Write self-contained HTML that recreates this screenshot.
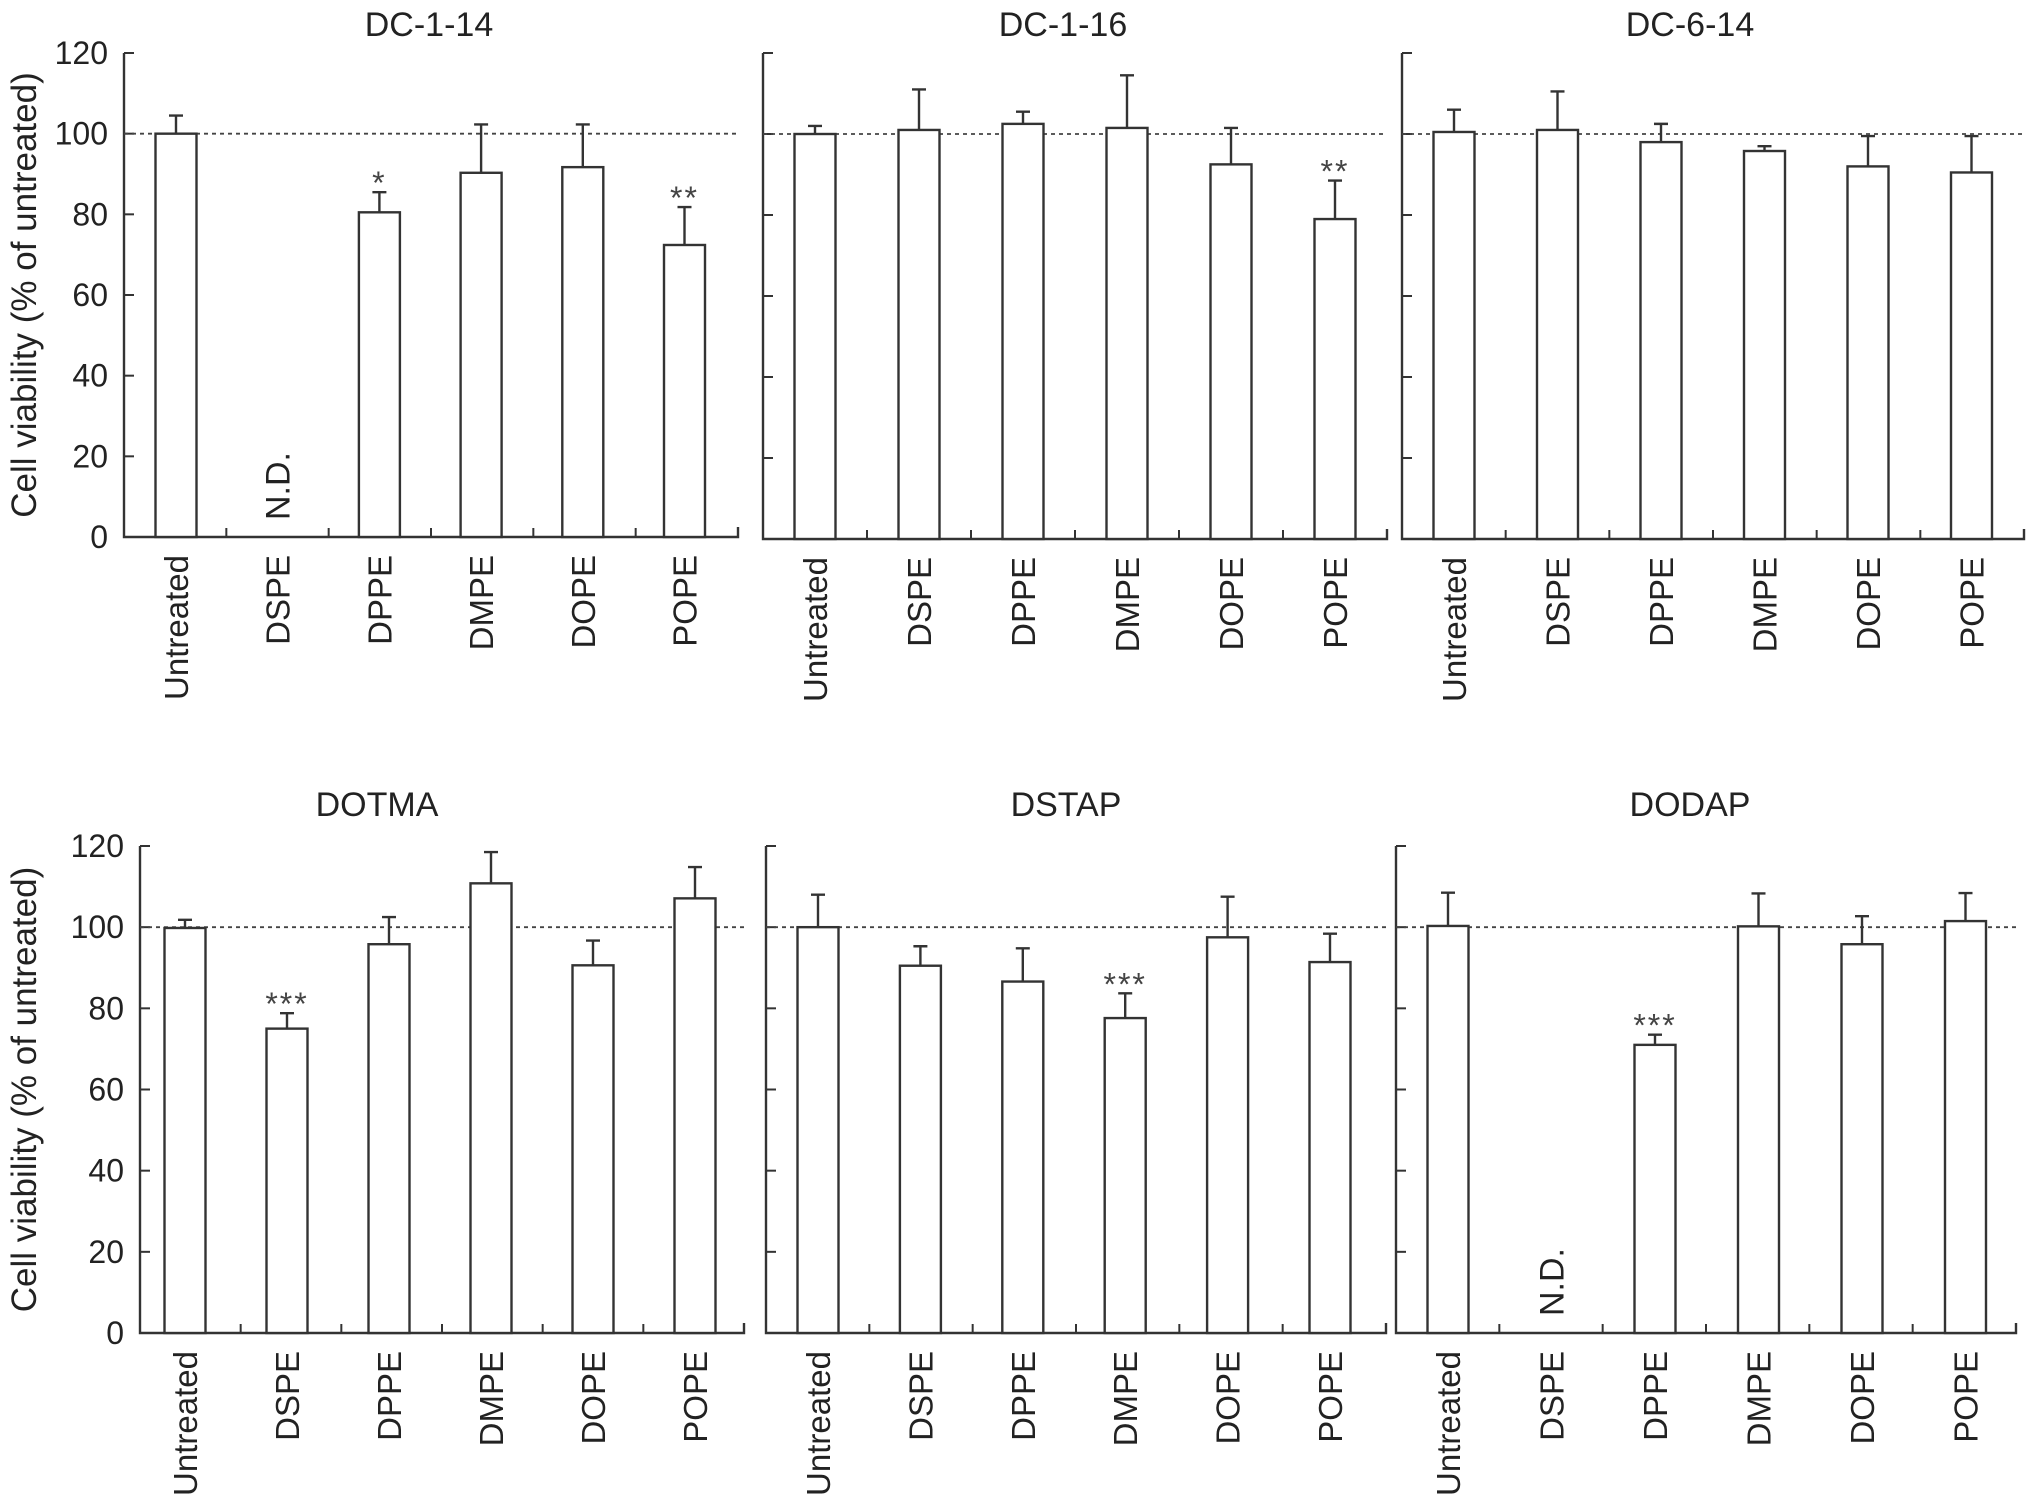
<!DOCTYPE html>
<html><head><meta charset="utf-8"><style>
body{margin:0;background:#fff;}
svg{display:block;font-family:"Liberation Sans",Arial,sans-serif;}
</style></head><body>
<svg id="chart" width="2032" height="1500" viewBox="0 0 2032 1500"></svg>
<script>
const categories = ["Untreated","DSPE","DPPE","DMPE","DOPE","POPE"];
const panelTitles = ["DC-1-14","DC-1-16","DC-6-14","DOTMA","DSTAP","DODAP"];
const yTicks = [0,20,40,60,80,100,120];
// null = N.D.
const valsDC114 = [100, null, 80.5, 90.3, 91.7, 72.4];
const errDC114  = [104.5, null, 85.5, 102.3, 102.3, 81.8];
const valsDC116 = [100, 101, 102.5, 101.5, 92.5, 79];
const errDC116  = [102, 111, 105.5, 114.5, 101.5, 88.5];
const valsDC614 = [100.5, 101, 98, 95.8, 92, 90.5];
const errDC614  = [106, 110.5, 102.5, 97, 99.5, 99.5];
const valsDOTMA = [99.8, 75, 95.8, 110.8, 90.6, 107.1];
const errDOTMA  = [101.8, 78.8, 102.5, 118.5, 96.7, 114.8];
const valsDSTAP = [100, 90.5, 86.6, 77.6, 97.5, 91.4];
const errDSTAP  = [108, 95.3, 94.8, 83.7, 107.5, 98.4];
const valsDODAP = [100.3, null, 71, 100.2, 95.8, 101.5];
const errDODAP  = [108.5, null, 73.5, 108.3, 102.7, 108.4];
const starsDC114 = ["", "", "*", "", "", "**"];
const starsDC116 = ["", "", "", "", "", "**"];
const starsDC614 = ["", "", "", "", "", ""];
const starsDOTMA = ["", "***", "", "", "", ""];
const starsDSTAP = ["", "", "", "***", "", ""];
const starsDODAP = ["", "", "***", "", "", ""];

const allVals = [valsDC114,valsDC116,valsDC614,valsDOTMA,valsDSTAP,valsDODAP];
const allErr = [errDC114,errDC116,errDC614,errDOTMA,errDSTAP,errDODAP];
const allStars = [starsDC114,starsDC116,starsDC614,starsDOTMA,starsDSTAP,starsDODAP];

const layout = [
  {x0:124,W:614,off:52,step:101.7,y0:537,y1:53,tx:429,ty:36},
  {x0:763,W:624,off:52,step:104,y0:539,y1:53,tx:1063,ty:36},
  {x0:1402,W:622,off:52,step:103.5,y0:539,y1:53,tx:1690,ty:36},
  {x0:140,W:604,off:45,step:102,y0:1333,y1:846,tx:377,ty:816},
  {x0:766,W:620,off:52,step:102.4,y0:1333,y1:846,tx:1066,ty:816},
  {x0:1396,W:620,off:52,step:103.5,y0:1333,y1:846,tx:1690,ty:816}
];
const NS="http://www.w3.org/2000/svg";
const svg=document.getElementById('chart');
function mk(tag,attrs,parent){const e=document.createElementNS(NS,tag);for(const k in attrs)e.setAttribute(k,attrs[k]);(parent||svg).appendChild(e);return e;}

layout.forEach((L,p)=>{
  const g=mk('g',{});
  
  
  const yS=v=>L.y0-(v/120)*(L.y0-L.y1);
  const tickStep=L.W/6;
  const xS=i=>L.x0+L.off+i*L.step;
  const t=mk('text',{x:L.tx,y:L.ty,'font-size':34,'text-anchor':'middle',fill:'#222'},g);
  t.textContent=panelTitles[p];
  
  
  const ax=mk('path',{d:`M${L.x0},${L.y1} V${L.y0} H${L.x0+L.W} v-10`,stroke:'#333','stroke-width':2.4,fill:'none'},g);
  
  
  yTicks.forEach(v=>{
    mk('line',{x1:L.x0,x2:L.x0+10,y1:yS(v),y2:yS(v),stroke:'#333','stroke-width':2},g);
    if(p%3===0){
      const tl=mk('text',{x:L.x0-16,y:yS(v)+11,'font-size':32,'text-anchor':'end',fill:'#222'},g);
      tl.textContent=v;
      
      
    }
  });
  for(let i=1;i<6;i++) mk('line',{x1:L.x0+i*tickStep,x2:L.x0+i*tickStep,y1:L.y0,y2:L.y0-9,stroke:'#333','stroke-width':2},g);
  if(p%3===0){
    const yt=mk('text',{x:0,y:0,'font-size':35,'text-anchor':'middle',fill:'#222',transform:`translate(36,${(L.y0+L.y1)/2}) rotate(-90)`},g);
    yt.textContent='Cell viability (% of untreated)';
    
    
  }
  const rl=mk('line',{x1:L.x0,x2:L.x0+L.W,y1:yS(100),y2:yS(100),stroke:'#444','stroke-width':1.8,'stroke-dasharray':'4,4'},g);
  
  
  const vals=allVals[p],errs=allErr[p],stars=allStars[p];
  categories.forEach((c,i)=>{
    const cx=xS(i),bw=41;
    if(vals[i]===null){
      const nd=mk('text',{x:0,y:0,'font-size':34,'text-anchor':'start',fill:'#222',transform:`translate(${cx+12},${L.y0-17}) rotate(-90)`},g);
      nd.textContent='N.D.';
      
      
    } else {
      const b=mk('rect',{x:cx-bw/2,y:yS(vals[i]),width:bw,height:L.y0-yS(vals[i]),fill:'#fff',stroke:'#333','stroke-width':2.4},g);
      
      
      const e=mk('path',{d:`M${cx},${yS(vals[i])} V${yS(errs[i])} M${cx-7},${yS(errs[i])} H${cx+7}`,stroke:'#333','stroke-width':2.4,fill:'none'},g);
      
      
      if(stars[i]){
        const s=mk('text',{x:cx,y:yS(errs[i])+2,'font-size':32,'text-anchor':'middle',fill:'#444','letter-spacing':2},g);
        s.textContent=stars[i];
        
        
      }
    }
    const cl=mk('text',{x:0,y:0,'font-size':33,'text-anchor':'end',fill:'#222',transform:`translate(${cx+12},${L.y0+18}) rotate(-90)`},g);
    cl.textContent=c;
    
    
  });
});
</script>
</body></html>
